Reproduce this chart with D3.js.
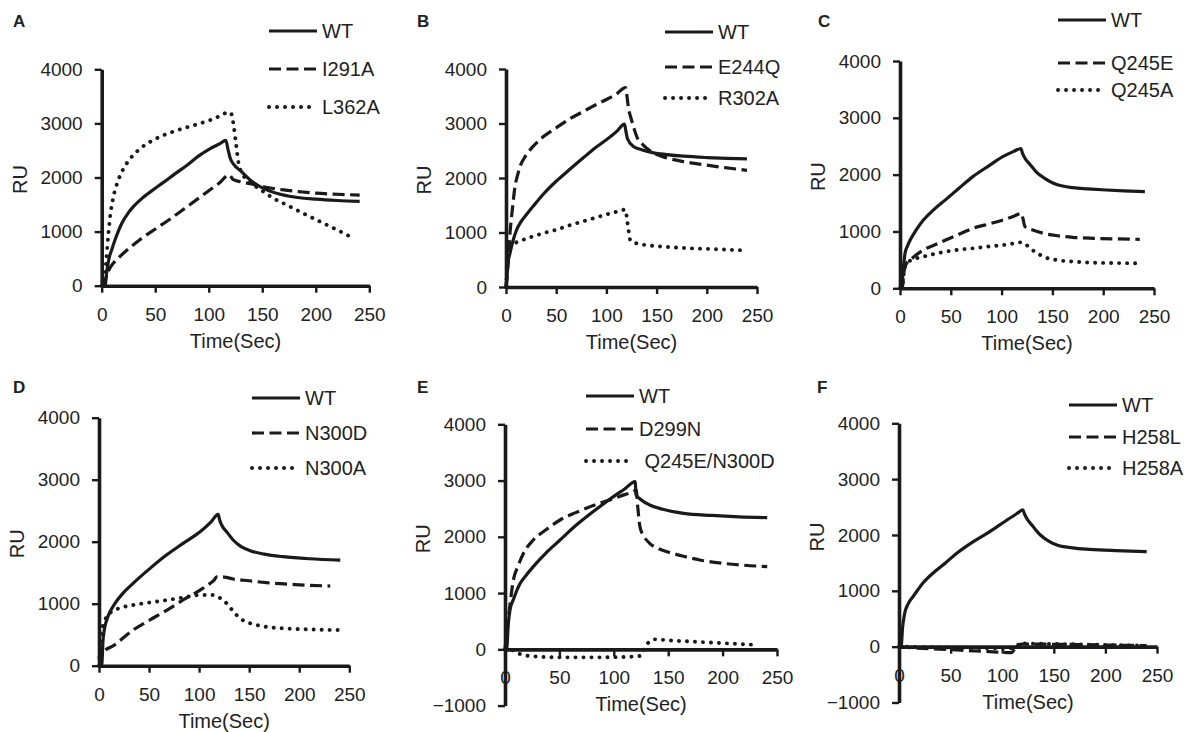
<!DOCTYPE html>
<html lang="en">
<head>
<meta charset="UTF-8">
<title>SPR sensorgrams, WT and mutants</title>
<script src="https://d3js.org/d3.v7.min.js"></script>
<style>
  body { margin: 0; background: #fff; }
  svg text { font-family: "Liberation Sans", Arial, sans-serif; fill: #222; }
  .curve { fill: none; stroke: #1a1a1a; }
  .letter { font-size: 17px; font-weight: bold; }
  .title { font-size: 20px; }
  .legend text { font-size: 20px; white-space: pre; }
</style>
</head>
<body>
<script>
// [time (s), response (RU)]
const aWT = [[0,0],[3,0],[5,300],[7,520],[9.3,660],[12,820],[15,980],[18.7,1150],[25,1350],[30,1470],[38.6,1630],[50,1800],[57,1900],[70,2090],[80,2230],[90,2390],[101,2530],[110,2620],[116,2685],[118,2520],[120,2360],[123,2250],[130,2120],[139,1950],[151,1800],[165,1700],[180,1640],[200,1600],[220,1575],[241,1560]];
const aI291A = [[0,0],[2,0],[4,150],[7,300],[11,420],[17,540],[25,680],[35,840],[51,1060],[63,1220],[77,1420],[90,1610],[101,1770],[110,1900],[119,2050],[123,1960],[130,1920],[140,1880],[151,1830],[170,1770],[185,1737],[200,1710],[220,1690],[241,1676]];
const aL362A = [[0,0],[2,0],[4,410],[6,900],[7.8,1270],[10.9,1640],[15.5,1950],[23.4,2260],[34,2500],[48,2690],[67,2850],[87,2970],[101,3060],[112,3150],[118,3210],[121,3180],[123,3000],[125,2700],[128,2250],[132,2050],[136,1950],[145,1820],[151,1740],[160,1620],[170,1520],[185,1370],[201,1214],[215,1080],[233,900]];

const bWT = [[0,0],[1,200],[2,450],[4,620],[7,850],[10.6,1050],[15,1200],[20,1320],[27,1480],[38,1720],[50,1940],[63,2150],[77,2370],[88,2540],[100,2700],[110,2850],[118,2990],[119.5,2850],[121,2720],[127,2580],[135,2520],[147,2460],[160,2430],[177,2400],[200,2375],[220,2360],[240,2350]];
const bE244Q = [[0,0],[2,400],[4,990],[6.5,1450],[9,1850],[11.5,2050],[14,2210],[20,2420],[27,2580],[38,2770],[50,2920],[63,3080],[77,3220],[88,3330],[100,3440],[110,3540],[119,3660],[120.5,3500],[122,3280],[124,3130],[127,2940],[130,2770],[137,2600],[147,2460],[160,2370],[177,2300],[195,2250],[210,2210],[225,2175],[240,2140]];
const bR302A = [[0,0],[1,300],[2,620],[4,720],[7,780],[15,850],[27,930],[38,990],[50,1050],[63,1130],[77,1205],[88,1265],[100,1330],[110,1380],[119,1420],[120.5,1250],[122,1050],[124,850],[130,800],[144,760],[160,735],[177,716],[200,700],[220,685],[240,673]];

const cWT = [[0,0],[1.5,0],[3,300],[5,620],[7.5,750],[10,850],[15,1000],[23,1200],[33,1380],[45,1560],[58,1760],[72,1970],[87,2150],[101.6,2320],[112,2410],[119,2460],[120.5,2380],[123,2290],[128,2180],[134,2050],[142,1940],[151,1850],[160,1800],[170,1771],[185,1750],[203,1730],[220,1715],[241,1701]];
const cQ245E = [[0,0],[2,0],[4,300],[6.5,440],[12,530],[23,674],[35,770],[45,850],[58,950],[72,1056],[87,1130],[101.6,1202],[112,1270],[119.6,1320],[121,1230],[123,1085],[130,1030],[141,968],[155,925],[170,897],[190,880],[210,870],[236,862]];
const cQ245A = [[0,0],[2,0],[4,300],[6,440],[12,500],[23,557],[35,610],[45,645],[58,680],[72,704],[87,735],[101.6,762],[112,790],[119,809],[124,770],[128,704],[135,620],[141,557],[154,499],[170,470],[187,452],[210,445],[237.5,440]];

const dWT = [[0,0],[2.7,0],[4,400],[5.5,600],[7.7,737],[11,870],[16,1005],[24,1170],[34,1328],[51,1570],[67,1780],[84,1973],[101,2161],[112,2320],[119,2441],[120.5,2350],[122.5,2269],[128,2150],[134,2027],[142,1920],[151,1855],[165,1800],[184,1758],[210,1725],[241,1704]];
const dN300D = [[1,0],[2,150],[3,199],[15,330],[34,575],[51,740],[68,898],[84,1060],[101,1220],[111,1328],[115,1380],[117.5,1435],[125,1430],[134,1398],[150,1370],[167,1339],[200,1305],[231,1285]];
const dN300A = [[0,0],[1,300],[2,521],[4,650],[7.7,790],[16,898],[34,978],[51,1020],[68,1059],[84,1100],[101,1140],[114,1140],[120,1100],[127.5,1005],[134,880],[141,763],[150,690],[157.5,656],[170,620],[184,602],[210,585],[239,575]];

const eWT = [[0,0],[1.5,0],[3,450],[4.6,699],[8,900],[14,1173],[20,1330],[26,1470],[38,1720],[50.6,1944],[65,2200],[87,2536],[100,2720],[110,2850],[119.6,2981],[120.5,2744],[125,2660],[133,2566],[145,2490],[164,2418],[190,2380],[215,2355],[241,2341]];
const eD299N = [[0,0],[1.5,284],[4,700],[7.7,1233],[12,1480],[17,1707],[26,1944],[38,2130],[50.6,2299],[65,2430],[87,2596],[100,2680],[110,2750],[118,2803],[120.5,2833],[122,2536],[124,2181],[128,2000],[133,1884],[140,1800],[149,1736],[165,1650],[179,1588],[200,1530],[220,1495],[241,1470]];
const eQ245EN300D = [[0,0],[4,10],[7.7,-24],[12,-70],[17,-100],[30,-130],[50,-142],[87,-142],[110,-135],[124,-118],[127,-40],[129,47],[133,140],[138,178],[150,160],[170,140],[200,110],[233,77]];

const fWT = [[0,0],[2,0],[3.5,350],[5.5,597],[9,770],[13.6,896],[18,1010],[23,1134],[35,1350],[45,1500],[56,1672],[72,1880],[88,2060],[104,2260],[114,2380],[120,2448],[121.5,2380],[123.7,2299],[130,2150],[137,2000],[145,1890],[153,1821],[168,1770],[185,1743],[210,1720],[240,1701]];
const fH258L = [[0,0],[5,-10],[23,-30],[56,-60],[88,-90],[109,-107],[112,-40],[114,30],[120,48],[153,42],[200,30],[240,18]];
const fH258A = [[0,0],[23,-8],[56,-18],[109,-30],[114,-10],[117,60],[130,55],[153,48],[200,30],[238,18]];

const xTicks = [0, 50, 100, 150, 200, 250];
const yTicksPos = [0, 1000, 2000, 3000, 4000];
const yTicksNeg = [-1000, 0, 1000, 2000, 3000, 4000];

const panelLetters = ["A", "B", "C", "D", "E", "F"];
const legendNames = [
  ["WT", "I291A", "L362A"],
  ["WT", "E244Q", "R302A"],
  ["WT", "Q245E", "Q245A"],
  ["WT", "N300D", "N300A"],
  ["WT", "D299N", " Q245E/N300D"],
  ["WT", "H258L", "H258A"]
];
const seriesData = [
  [aWT, aI291A, aL362A],
  [bWT, bE244Q, bR302A],
  [cWT, cQ245E, cQ245A],
  [dWT, dN300D, dN300A],
  [eWT, eD299N, eQ245EN300D],
  [fWT, fH258L, fH258A]
];

// pixel layout of each panel
const layout = [
  { x: [101.7, 369.3], y: [285.7, 69.3], yd: [0, 4000], letter: [13, 27], legX: 269, legY: [31, 69, 107] },
  { x: [506, 757], y: [287, 69], yd: [0, 4000], letter: [417, 27], legX: 665, legY: [32, 67, 98] },
  { x: [900, 1154], y: [288.3, 61], yd: [0, 4000], letter: [818, 27], legX: 1058, legY: [20, 63, 90] },
  { x: [99, 349.3], y: [665.7, 417.7], yd: [0, 4000], letter: [13, 393], legX: 252, legY: [398, 433, 468] },
  { x: [505, 777], y: [705.6, 424.3], yd: [-1000, 4000], letter: [417, 393], legX: 586, legY: [396, 429, 461] },
  { x: [899, 1157], y: [702.5, 423.3], yd: [-1000, 4000], letter: [817, 393], legX: 1069, legY: [405, 437, 468] }
];

const styles = [
  { w: 3.2, dash: null, cap: "butt" },
  { w: 3.2, dash: "12,5.5", cap: "butt" },
  { w: 3.9, dash: "0.1,7.9", cap: "round" }
];

const fmt = d3.format("d");

function styleAxis(a) {
  a.select(".domain").attr("stroke", "#1a1a1a").attr("stroke-width", 3.6);
  a.selectAll(".tick line").attr("stroke", "#1a1a1a").attr("stroke-width", 2.4);
  a.selectAll(".tick text")
    .attr("fill", "#222")
    .attr("font-size", 19)
    .attr("font-family", "Liberation Sans, Arial, sans-serif");
}

const svg = d3.select("body").append("svg")
  .attr("width", 1189)
  .attr("height", 732);

layout.forEach((p, i) => {
  const g = svg.append("g");
  const xs = d3.scaleLinear().domain([0, 250]).range(p.x);
  const ys = d3.scaleLinear().domain(p.yd).range(p.y);
  const y0 = ys(0);

  // x axis sits on RU = 0
  g.append("g")
    .attr("transform", `translate(0,${y0})`)
    .call(d3.axisBottom(xs).tickValues(xTicks).tickFormat(fmt)
      .tickSize(7).tickSizeOuter(0).tickPadding(14.5))
    .call(styleAxis);

  g.append("g")
    .attr("transform", `translate(${p.x[0]},0)`)
    .call(d3.axisLeft(ys).tickValues(p.yd[0] < 0 ? yTicksNeg : yTicksPos).tickFormat(fmt)
      .tickSize(7).tickSizeOuter(0).tickPadding(12))
    .call(styleAxis);

  // labels
  g.append("text").attr("class", "letter")
    .attr("x", p.letter[0]).attr("y", p.letter[1]).text(panelLetters[i]);

  g.append("text").attr("class", "title")
    .attr("text-anchor", "middle")
    .attr("x", (p.x[0] + p.x[1]) / 2)
    .attr("y", y0 + 62)
    .text("Time(Sec)");

  g.append("text").attr("class", "title")
    .attr("text-anchor", "middle")
    .attr("transform", `translate(${p.x[0] - 75},${ys(2000) + 2}) rotate(-90)`)
    .text("RU");

  // curves
  const line = d3.line()
    .x(d => xs(d[0]))
    .y(d => ys(d[1]))
    .curve(d3.curveMonotoneX);

  seriesData[i].forEach((s, k) => {
    g.append("path")
      .datum(s)
      .attr("class", "curve")
      .attr("d", line)
      .attr("stroke-width", styles[k].w)
      .attr("stroke-dasharray", styles[k].dash)
      .attr("stroke-linecap", styles[k].cap);
  });

  // legend
  const leg = g.append("g").attr("class", "legend");
  legendNames[i].forEach((name, k) => {
    leg.append("line")
      .attr("class", "curve")
      .attr("x1", p.legX).attr("x2", p.legX + 48)
      .attr("y1", p.legY[k]).attr("y2", p.legY[k])
      .attr("stroke-width", styles[k].w)
      .attr("stroke-dasharray", styles[k].dash)
      .attr("stroke-linecap", styles[k].cap);
    leg.append("text")
      .attr("x", p.legX + 53)
      .attr("y", p.legY[k] + 7)
      .text(name);
  });
});
</script>
</body>
</html>
